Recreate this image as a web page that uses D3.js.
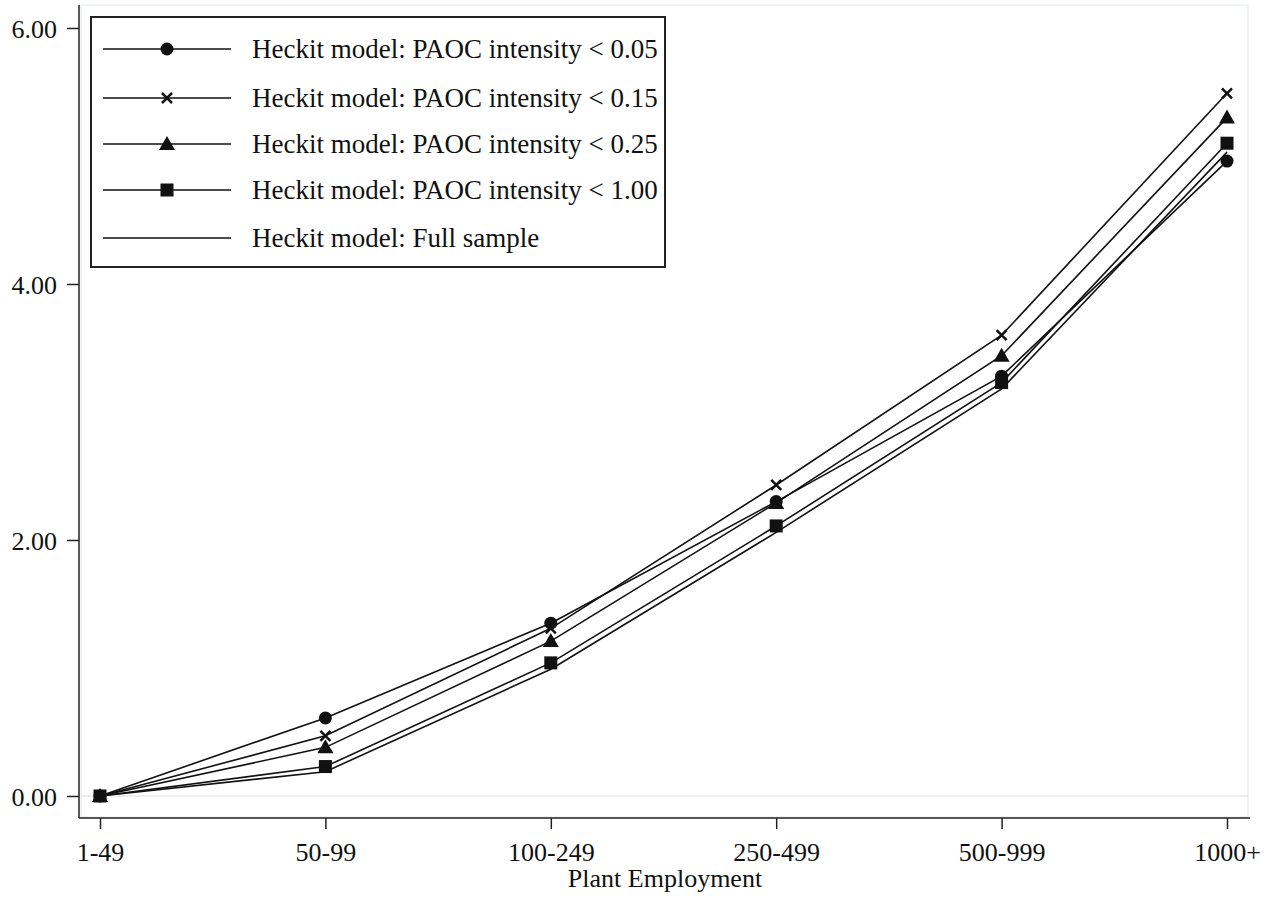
<!DOCTYPE html>
<html><head><meta charset="utf-8">
<script src="https://cdn.jsdelivr.net/npm/d3@7"></script>
<style>body{margin:0;background:#fff}svg{display:block}</style>
</head><body><svg id="c" width="1275" height="899"></svg>
<script>
const categories = ["1-49","50-99","100-249","250-499","500-999","1000+"];
const yTicks = [0,2,4,6];
const seriesNames = ["Heckit model: PAOC intensity < 0.05","Heckit model: PAOC intensity < 0.15","Heckit model: PAOC intensity < 0.25","Heckit model: PAOC intensity < 1.00","Heckit model: Full sample"];
const seriesMarkers = ["circle","cross","triangle","square","none"];
const s005 = [0,0.61,1.35,2.30,3.28,4.96];
const s015 = [0,0.47,1.31,2.43,3.60,5.49];
const s025 = [0,0.38,1.21,2.29,3.44,5.30];
const s100 = [0,0.23,1.04,2.11,3.23,5.10];
const sFull = [0,0.19,0.99,2.06,3.18,5.03];
const seriesValues = [s005,s015,s025,s100,sFull];

const FONT = "Liberation Serif, Times New Roman, serif";
const svg = d3.select("#c");
const x = d3.scalePoint().domain(categories).range([100,1227]);
const y = d3.scaleLinear().domain([0,6]).range([796,28]);

// plot frame
svg.append("rect").attr("x",81).attr("y",5).attr("width",1167).attr("height",812)
  .attr("fill","none").attr("stroke","#e3e9ef").attr("stroke-width",1);
// gridline at 0
svg.append("line").attr("x1",81).attr("x2",1248).attr("y1",y(0)).attr("y2",y(0))
  .attr("stroke","#dcdcdc").attr("stroke-width",1);

const yAxis = svg.append("g").attr("transform","translate(79,0)")
  .call(d3.axisLeft(y).tickValues(yTicks).tickFormat(d3.format(".2f")).tickSize(12).tickSizeOuter(0));
yAxis.select(".domain").attr("d","M0,5V818").attr("stroke","#222").attr("stroke-width",1.5);
yAxis.selectAll(".tick line").attr("stroke","#222").attr("stroke-width",1.5);
yAxis.selectAll(".tick text").attr("font-size",26).attr("x",-22).attr("dy","0.35em")
  .attr("font-family",FONT).attr("fill","#111");

const xAxis = svg.append("g").attr("transform","translate(0,818)")
  .call(d3.axisBottom(x).tickSize(11).tickSizeOuter(0));
xAxis.select(".domain").attr("d","M79,0H1250").attr("stroke","#222").attr("stroke-width",1.5);
xAxis.selectAll(".tick line").attr("stroke","#222").attr("stroke-width",1.5);
xAxis.selectAll(".tick text").attr("font-size",26).attr("y",43).attr("dy",0)
  .attr("font-family",FONT).attr("fill","#111");

svg.append("text").attr("x",665).attr("y",887).attr("text-anchor","middle")
  .attr("font-size",26).attr("font-family",FONT).attr("fill","#111").text("Plant Employment");

const line = d3.line().x((d,i)=>x(categories[i])).y(d=>y(d));

function marker(g, type, cx, cy){
  if(type==="circle") g.append("circle").attr("cx",cx).attr("cy",cy).attr("r",6.5).attr("fill","#111");
  else if(type==="square") g.append("rect").attr("x",cx-6.5).attr("y",cy-6.5).attr("width",13).attr("height",13).attr("fill","#111");
  else if(type==="triangle") g.append("path").attr("d",`M${cx},${cy-8}L${cx+8},${cy+6}L${cx-8},${cy+6}Z`).attr("fill","#111");
  else if(type==="cross") g.append("path").attr("d",`M${cx-5},${cy-5}L${cx+5},${cy+5}M${cx+5},${cy-5}L${cx-5},${cy+5}`).attr("stroke","#111").attr("stroke-width",2.5);
}

const plot = svg.append("g");
seriesValues.forEach((vals)=>{
  plot.append("path").datum(vals).attr("d",line).attr("fill","none").attr("stroke","#111").attr("stroke-width",1.6);
});
seriesValues.forEach((vals,si)=>{
  vals.forEach((v,i)=>marker(plot, seriesMarkers[si], x(categories[i]), y(v)));
});

// legend
const lg = svg.append("g");
lg.append("rect").attr("x",91).attr("y",17).attr("width",574).attr("height",250).attr("fill","#fff").attr("stroke","#222").attr("stroke-width",2);
const rowY = [49,98,144,190,238];
seriesNames.forEach((n,i)=>{
  lg.append("line").attr("x1",103).attr("x2",231).attr("y1",rowY[i]).attr("y2",rowY[i]).attr("stroke","#111").attr("stroke-width",1.6);
  marker(lg, seriesMarkers[i], 167, rowY[i]);
  lg.append("text").attr("x",252).attr("y",rowY[i]+9).attr("font-size",27)
    .attr("font-family",FONT).attr("fill","#111").text(n);
});
</script></body></html>
